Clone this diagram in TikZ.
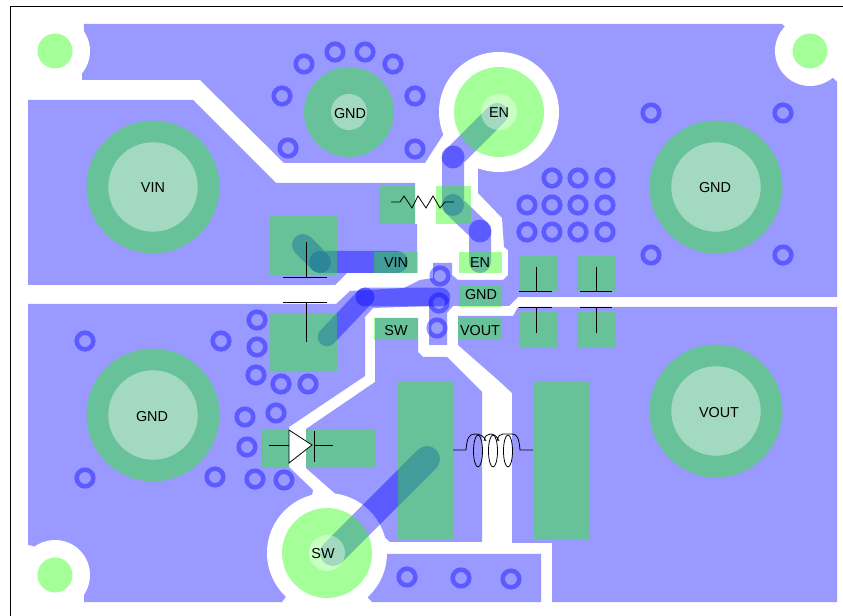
\documentclass[tikz,border=0pt]{standalone}
\usepackage{fontspec}
\setmainfont{Liberation Sans}

\definecolor{copper}{RGB}{0,0,255}
\definecolor{padgreen}{RGB}{30,255,0}

\tikzset{
    plane/.style={fill=copper,fill opacity=0.4},
    clearance/.style={fill=white},
    track/.style={draw=copper,draw opacity=0.4,line cap=round,line join=round},
    viadot/.style={fill=copper,fill opacity=0.4},
    viaring/.style={draw=copper,draw opacity=0.4,line width=3.4pt},
    pad/.style={fill=padgreen,fill opacity=0.4},
    hole/.style={fill=white,fill opacity=0.4},
    part/.style={draw=black,line width=0.6pt},
    padlabel/.style={font=\fontsize{10.8}{13}\selectfont,text=black,inner sep=0pt}
}

\begin{document}
\begin{tikzpicture}[x=0.75pt,y=-0.75pt]
    \useasboundingbox (0,0) rectangle (843,616);
    \fill[white] (0,0) rectangle (843,616);
    \draw[line width=0.9pt] (10.5,616) -- (10.5,6.2) -- (843,6.2);

    % copper
    \fill[plane] (84,24) -- (782,24) -- (810,51) -- (834,79) -- (837,82) -- (837,297) -- (518,297)
        -- (509,306) -- (453,306) -- (447,313) -- (447,345) -- (429,345) -- (429,306) -- (373,308)
        -- (365,317) -- (365,376) -- (289,427) -- (289,467) -- (313,490) -- (312,495) -- (327,553)
        -- (285,598) -- (282,602) -- (84,602) -- (84,575) -- (33,546) -- (28,545) -- (28,304)
        -- (336,304) -- (350,291) -- (404,288) -- (420,280) -- (433,278) -- (433,263) -- (452,263)
        -- (452,275) -- (458,280) -- (503,280) -- (508,275) -- (508,250) -- (504,247) -- (502,218)
        -- (478,193) -- (478,170) -- (499,112) -- (443,135) -- (430,155) -- (425,163) -- (284,163)
        -- (200,80) -- (82,80) -- cycle;
    \fill[plane] (28,100) -- (193,100) -- (276,183) -- (415,183) -- (415,224) -- (417,224)
        -- (417,273) -- (347,273) -- (335,285) -- (28,285) -- cycle;
    \fill[plane] (375,318) -- (418,318) -- (418,352) -- (423,357) -- (447,357) -- (482,392)
        -- (482,542) -- (390,542) -- (306,468) -- (306,429) -- (375,382) -- cycle;
    \fill[plane] (837,307) -- (518,307) -- (513,316) -- (458,316) -- (458,345) -- (498,380)
        -- (512,393) -- (512,543) -- (552,543) -- (552,602) -- (837,602) -- cycle;
    \fill[plane] (387,554) -- (541,554) -- (541,602) -- (372,602) -- (368,598) -- (370,575) -- cycle;

    \fill[clearance] (55,51) circle (35);
    \fill[clearance] (810,51) circle (35);
    \fill[clearance] (55,575) circle (35);
    \fill[clearance] (499,112) circle (60);
    \fill[clearance] (327,553) circle (60);

    % tracks and vias
    \draw[track,line width=16.5pt] (497,114) -- (453,158) -- (453,205) -- (480,231) -- (480,262);
    \draw[track,line width=16.5pt] (303,245) -- (320,262) -- (397,262);
    \draw[track,line width=14pt] (327,337) -- (365,297) -- (441,297);
    \draw[track,line width=19.5pt] (333,553) -- (427,459);
    \fill[viadot] (453,157) circle (11.5);
    \fill[viadot] (453,205) circle (11);
    \fill[viadot] (480,231) circle (11.5);
    \fill[viadot] (320,262) circle (11);
    \fill[viadot] (365,297) circle (9.5);

    \draw[viaring] (304,64) circle (8.3) (335,52) circle (8.3) (365,52) circle (8.3) (393,64) circle (8.3);
    \draw[viaring] (282,96) circle (8.3) (415,96) circle (8.3) (288,148) circle (8.3) (415,149) circle (8.3);
    \draw[viaring] (651,113) circle (8.3) (783,113) circle (8.3) (651,255) circle (8.3) (783,255) circle (8.3);
    \draw[viaring] (552,178) circle (8.3) (578,178) circle (8.3) (605,178) circle (8.3);
    \draw[viaring] (527,205) circle (8.3) (552,205) circle (8.3) (578,205) circle (8.3) (605,205) circle (8.3);
    \draw[viaring] (527,232) circle (8.3) (552,232) circle (8.3) (578,232) circle (8.3) (605,232) circle (8.3);
    \draw[viaring] (85,341) circle (8.3) (221,341) circle (8.3) (257,320) circle (8.3) (257,347) circle (8.3);
    \draw[viaring] (256,375) circle (8.3) (281,384) circle (8.3) (308,384) circle (8.3);
    \draw[viaring] (245,417) circle (8.3) (276,413) circle (8.3) (247,447) circle (8.3);
    \draw[viaring] (85,478) circle (8.3) (215,477) circle (8.3) (255,479) circle (8.3) (284,480) circle (8.3);
    \draw[viaring] (407,577) circle (8.3) (461,578) circle (8.3) (511,579) circle (8.3);
    \draw[viaring] (440,276) circle (8.3) (439,303) circle (8.3) (437,328) circle (8.3);

    % pads
    \fill[pad] (153,187) circle (66.5);
    \fill[pad] (716,187) circle (66.5);
    \fill[pad] (153,415) circle (66.5);
    \fill[pad] (716,411) circle (66.5);
    \fill[pad] (349,112) circle (45);
    \fill[pad] (499,112) circle (45);
    \fill[pad] (327,553) circle (45);
    \fill[pad] (55,51) circle (17.5);
    \fill[pad] (810,51) circle (17.5);
    \fill[pad] (55,575) circle (17.5);
    \fill[hole] (153,187) circle (44.7);
    \fill[hole] (716,187) circle (44.7);
    \fill[hole] (153,415) circle (44.7);
    \fill[hole] (716,411) circle (44.7);
    \fill[hole] (349,112) circle (18);
    \fill[hole] (499,112) circle (18);
    \fill[hole] (327,553) circle (18);

    \fill[pad] (270,216) rectangle (337,275);
    \fill[pad] (270,313) rectangle (337,372);
    \fill[pad] (379,186) rectangle (415,224);
    \fill[pad] (436,186) rectangle (471,224);
    \fill[pad] (374,252) rectangle (418,273);
    \fill[pad] (459,252) rectangle (502,273);
    \fill[pad] (459,285) rectangle (502,307);
    \fill[pad] (374,318) rectangle (418,340);
    \fill[pad] (458,318) rectangle (502,340);
    \fill[pad] (519,256) rectangle (558,291);
    \fill[pad] (519,312) rectangle (558,348);
    \fill[pad] (577,256) rectangle (616,291);
    \fill[pad] (577,312) rectangle (616,348);
    \fill[pad] (398,381) rectangle (454,539);
    \fill[pad] (534,381) rectangle (590,539);
    \fill[pad] (261,429) rectangle (289,468);
    \fill[pad] (306,429) rectangle (376,468);

    % parts
    \draw[part] (391,202) -- (400,202) -- (404,196) -- (412,208) -- (418,196) -- (426,208)
        -- (433,196) -- (440,208) -- (445,202) -- (454,202);
    \draw[part] (306,242) -- (306,277) (283,277) -- (327,277);
    \draw[part] (283,302) -- (327,302) (306,302) -- (306,342);
    \draw[part] (536,267) -- (536,291) (519,291) -- (552,291);
    \draw[part] (519,307) -- (552,307) (536,307) -- (536,333);
    \draw[part] (596,267) -- (596,291) (580,291) -- (612,291);
    \draw[part] (580,307) -- (612,307) (596,307) -- (596,333);

    \draw[part] (269,445) -- (289,445);
    \draw[part,fill=white] (289,430) -- (289,463) -- (312,445) -- cycle;
    \draw[part] (314,431) -- (314,462) (314,445) -- (333,445);

    \draw[part] (453,450) -- (466,450) .. controls (467,438) and (469,434) .. (475,434)
        .. controls (480,434) and (484,436) .. (486,441);
    \draw[part] (484,441) .. controls (485,436) and (487,434) .. (490,434)
        .. controls (494,434) and (497,436) .. (499,441);
    \draw[part] (497,441) .. controls (498,436) and (500,434) .. (503,434)
        .. controls (506,434) and (508,434) .. (512,434) .. controls (517,434) and (519,438) .. (520,450)
        -- (533,450);
    \draw[part] (478,451) ellipse (4.5 and 16);
    \draw[part] (493,451) ellipse (4.5 and 16);
    \draw[part] (508,451) ellipse (4.5 and 16);

    % labels
    \node[padlabel] (vinbig) at (153,187.7) {VIN};
    \node[padlabel] (gndright) at (715,187.7) {GND};
    \node[padlabel] (gndleft) at (152,416.7) {GND};
    \node[padlabel] (voutbig) at (719,412.7) {VOUT};
    \node[padlabel] (gndtop) at (350,113.7) {GND};
    \node[padlabel] (enbig) at (499,112.7) {EN};
    \node[padlabel] (swbig) at (323,553.7) {SW};
    \node[padlabel] (vinpin) at (396,262.7) {VIN};
    \node[padlabel] (enpin) at (480,262.7) {EN};
    \node[padlabel] (gndpin) at (481,294.7) {GND};
    \node[padlabel] (swpin) at (396,330.7) {SW};
    \node[padlabel] (voutpin) at (480,330.7) {VOUT};
\end{tikzpicture}
\end{document}
